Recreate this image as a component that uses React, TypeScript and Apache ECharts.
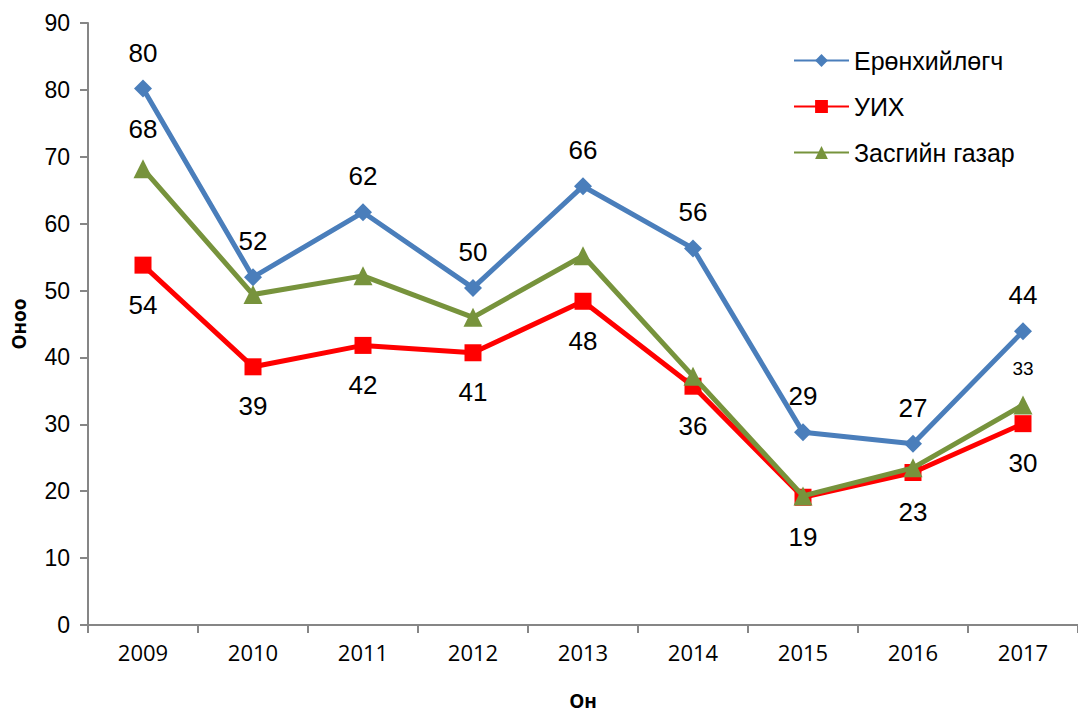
import React, { useEffect, useRef } from "react";
import * as echarts from "echarts";

const years = ["2009", "2010", "2011", "2012", "2013", "2014", "2015", "2016", "2017"];
const president = [80.2, 52.0, 61.7, 50.4, 65.6, 56.3, 28.8, 27.1, 43.9];
const parliament = [53.8, 38.6, 41.8, 40.7, 48.4, 35.7, 19.1, 22.8, 30.1];
const government = [68.2, 49.4, 52.2, 46.0, 55.2, 37.2, 19.3, 23.5, 32.9];
const governmentLabeled = [true, false, false, false, false, false, false, false, true];

const narrow = "'Liberation Sans Narrow', 'Arial Narrow', 'Liberation Sans', Arial, sans-serif";
const axisGray = "#868686";

export default function App() {
  const ref = useRef<HTMLDivElement>(null);
  useEffect(() => {
    if (!ref.current) return;
    const chart = echarts.init(ref.current, null, { renderer: "svg" });
    const labelBase = {
      show: true,
      fontFamily: narrow,
      fontSize: 26,
      color: "#000",
    };
    chart.setOption({
      animation: false,
      backgroundColor: "#fff",
      grid: { left: 88, top: 23, width: 999, height: 607, containLabel: false },
      legend: {
        orient: "vertical",
        left: 793,
        top: 48,
        padding: 0,
        itemWidth: 55,
        itemHeight: 16,
        itemGap: 21,
        textStyle: { fontFamily: "'Liberation Sans', Arial, sans-serif", fontSize: 25, color: "#000" },
        data: ["Ерөнхийлөгч", "УИХ", "Засгийн газар"],
      },
      xAxis: {
        type: "category",
        data: years,
        boundaryGap: true,
        name: "Он",
        nameLocation: "middle",
        nameGap: 66,
        nameTextStyle: { fontFamily: "'Open Sans', sans-serif", fontWeight: "bold", fontSize: 19, color: "#000" },
        axisLine: { lineStyle: { color: axisGray, width: 2 } },
        axisTick: { show: true, alignWithLabel: false, length: 8, lineStyle: { color: axisGray, width: 2 } },
        axisLabel: { fontFamily: "'Open Sans', sans-serif", fontSize: 22, color: "#000", margin: 16 },
      },
      yAxis: {
        type: "value",
        min: 0,
        max: 90,
        interval: 10,
        name: "Оноо",
        nameLocation: "middle",
        nameRotate: 90,
        nameGap: 60,
        nameTextStyle: { fontFamily: "'Open Sans', sans-serif", fontWeight: "bold", fontSize: 19, color: "#000" },
        axisLine: { show: true, lineStyle: { color: axisGray, width: 2 } },
        axisTick: { show: true, length: 8, lineStyle: { color: axisGray, width: 2 } },
        splitLine: { show: false },
        axisLabel: { fontFamily: narrow, fontSize: 23, color: "#000", margin: 18 },
      },
      series: [
        {
          name: "Ерөнхийлөгч",
          type: "line",
          data: president,
          symbol: "diamond",
          symbolSize: 18,
          lineStyle: { color: "#4a7ebb", width: 5 },
          itemStyle: { color: "#4a7ebb" },
          label: { ...labelBase, position: "top", distance: 14, formatter: (p: any) => Math.round(p.value).toString() },
          z: 3,
        },
        {
          name: "УИХ",
          type: "line",
          data: parliament,
          symbol: "rect",
          symbolSize: 17,
          lineStyle: { color: "#ff0000", width: 5 },
          itemStyle: { color: "#ff0000" },
          label: { ...labelBase, position: "bottom", distance: 18, formatter: (p: any) => Math.round(p.value).toString() },
          z: 2,
        },
        {
          name: "Засгийн газар",
          type: "line",
          data: government.map((v, i) => ({
            value: v,
            label: governmentLabeled[i]
              ? { show: true, fontSize: i === 8 ? 19 : 26 }
              : { show: false },
          })),
          symbol: "triangle",
          symbolSize: 19,
          lineStyle: { color: "#77933c", width: 5 },
          itemStyle: { color: "#77933c" },
          label: { ...labelBase, position: "top", distance: 17, formatter: (p: any) => Math.round(p.value).toString() },
          z: 4,
        },
      ],
    });
    return () => chart.dispose();
  }, []);
  return <div ref={ref} style={{ width: 1078, height: 715, position: "absolute", left: 0, top: 0 }} />;
}
